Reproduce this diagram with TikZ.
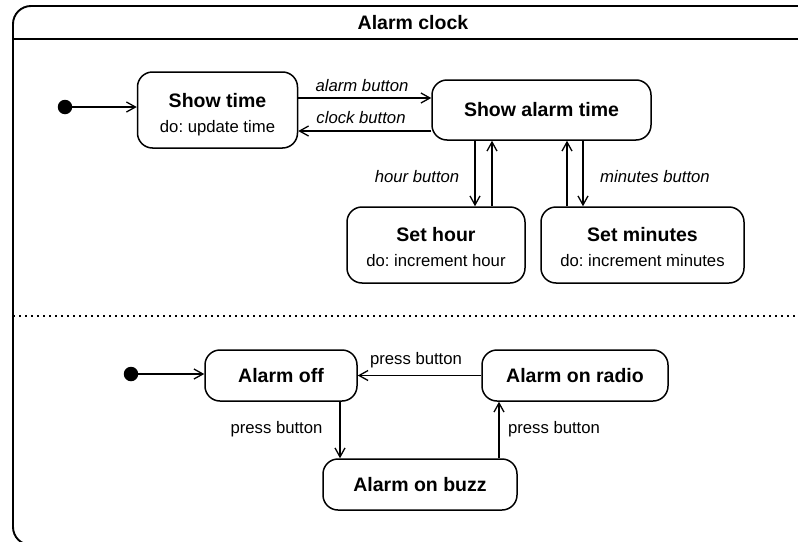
\documentclass[tikz,border=0pt]{standalone}
\usepackage{fontspec}
\setmainfont{Liberation Sans}
\usetikzlibrary{arrows.meta}
\frenchspacing
\newcommand\stname{\fontsize{19.5}{25}\selectfont\bfseries}
\begin{document}
\begin{tikzpicture}[x=1pt,y=-1pt,
  font=\fontsize{16.7}{25}\selectfont,
  state/.style={draw, line width=1.5, rounded corners=15, align=center, inner sep=0pt},
  tr/.style={line width=1.3, -{Straight Barb[length=9pt,width=10pt,line width=1.3]}},
  initdot/.style={circle, fill=black, inner sep=0pt, minimum size=14.5pt},
  lbl/.style={inner sep=0pt},
  trig/.style={lbl, font=\fontsize{16.7}{20}\selectfont\itshape}]
  \useasboundingbox (0,0) rectangle (798,541);
  \clip (0,0) rectangle (798,541);

  % composite state frame with its name compartment
  \draw[line width=1.9, rounded corners=18] (13,6) rectangle (830,545);
  \draw[line width=1.9] (13,39) -- (830,39);
  \node[lbl, font=\stname] (title) at (413,23) {Alarm clock};

  % region separator
  \draw[line width=1.1, dash pattern=on 2pt off 4pt] (13,316) -- (830,316);

  % upper region: display states
  \node[initdot] (init1) at (65,107) {};
  \node[state, minimum width=160, minimum height=76] (show) at (217.5,110)
    {\rule{0pt}{22.5pt}{\stname Show time}\\do: update time};
  \node[state, minimum width=219, minimum height=60] (alarm) at (541.5,110) {\stname Show alarm time};
  \node[state, minimum width=178, minimum height=76] (hour) at (436,245)
    {\rule{0pt}{19pt}{\stname Set hour}\\do: increment hour};
  \node[state, minimum width=203, minimum height=76] (minutes) at (642.5,245)
    {\rule{0pt}{19pt}{\stname Set minutes}\\do: increment minutes};

  \draw[tr] (init1.center) -- (init1 -| show.west);
  \draw[tr] ([yshift=12]show.east) -- ([yshift=12]alarm.west);
  \draw[tr] ([yshift=-21]alarm.west) -- ([yshift=-21]show.east);
  \draw[tr] ([xshift=-66.5]alarm.south) -- ([xshift=39]hour.north);
  \draw[tr] ([xshift=56]hour.north) -- ([xshift=-49.5]alarm.south);
  \draw[tr] ([xshift=-75.5]minutes.north) -- ([xshift=25.5]alarm.south);
  \draw[tr] ([xshift=41.5]alarm.south) -- ([xshift=-59.5]minutes.north);

  \node[trig] (lalarm) at (362,86) {alarm button};
  \node[trig] (lclock) at (361,118) {clock button};
  \node[trig] (lhour) at (417,177) {hour button};
  \node[trig] (lmin) at (655,177) {minutes button};

  % lower region: alarm states
  \node[initdot] (init2) at (131,374) {};
  \node[state, minimum width=152, minimum height=51] (off) at (281,375.5) {\stname Alarm off};
  \node[state, minimum width=186, minimum height=51] (radio) at (575,375.5) {\stname Alarm on radio};
  \node[state, minimum width=194, minimum height=51] (buzz) at (420,484.5) {\stname Alarm on buzz};

  \draw[tr] (init2.center) -- (init2 -| off.west);
  \draw[tr] (radio.west) -- (off.east);
  \draw[tr] ([xshift=59]off.south) -- ([xshift=-80]buzz.north);
  \draw[tr] ([xshift=79]buzz.north) -- ([xshift=-76]radio.south);

  \node[lbl] (ltop) at (416,360) {press button};
  \node[lbl] (lleft) at (276.5,429) {press button};
  \node[lbl] (lright) at (554,429) {press button};
\end{tikzpicture}
\end{document}
